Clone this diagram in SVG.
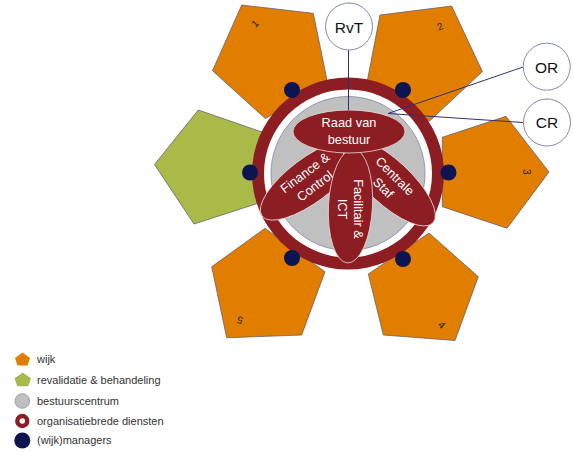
<svg xmlns="http://www.w3.org/2000/svg" width="573" height="452" viewBox="0 0 573 452">
<defs>
<style>
.wijk{fill:#E17E00;stroke:#55556A;stroke-width:0.7}
.reva{fill:#A9BA48;stroke:#55556A;stroke-width:0.7}
.num{font-family:"Liberation Sans",Arial,sans-serif;font-size:10px;fill:#222;text-anchor:middle;dominant-baseline:central}
.petal{fill:#8C1D23;stroke:#F0D8D8;stroke-width:0.8}
.ptxt{font-family:"Liberation Sans",Arial,sans-serif;font-size:12.8px;fill:#FFFFFF;text-anchor:middle}
.mgr{fill:#0C1452}
.body{fill:#FFFFFF;stroke:#8387B5;stroke-width:1}
.btxt{font-family:"Liberation Sans",Arial,sans-serif;font-size:15.5px;fill:#111;text-anchor:middle}
.conn{stroke:#2E3275;stroke-width:1;fill:none}
.leg{font-family:"Liberation Sans",Arial,sans-serif;font-size:11px;fill:#333}
</style>
</defs>

<g id="wijk1">
<polygon class="wijk" points="241.7,5 313.3,13.3 327.6,83 265.3,118.6 212.5,70.7"/>
<text class="num" transform="translate(255,23.5) rotate(-45)">1</text>
</g>
<g id="wijk2">
<polygon class="wijk" points="380,15 451.7,6 482.4,71.6 429.6,121 366.3,86"/>
<text class="num" transform="translate(440,26.5) rotate(-25)">2</text>
</g>
<g id="wijk3">
<polygon class="wijk" points="549,172 507,228.3 442.3,206.7 442.3,137.3 506,116.3"/>
<text class="num" transform="translate(526.5,171.7) rotate(90)">3</text>
</g>
<g id="wijk4">
<polygon class="wijk" points="429,233 478.3,276.7 455,340.5 383.3,335 368.3,274"/>
<text class="num" transform="translate(441.7,325) rotate(45)">4</text>
</g>
<g id="wijk5">
<polygon class="wijk" points="265,228.3 325,271.7 301.7,335 226.7,337.8 211.7,266.7"/>
<text class="num" transform="translate(240,320) rotate(200)">5</text>
</g>
<g id="revalidatie">
<polygon class="reva" points="198.3,110 262,132 262,202 194,224 154.5,164.5"/>
</g>

<g id="organisatiebrede-diensten">
<circle cx="348" cy="173.5" r="96" fill="#8C1D23"/>
<circle cx="348" cy="173.5" r="84" fill="#FFFFFF"/>
</g>
<g id="bestuurscentrum">
<circle cx="348" cy="173.5" r="77" fill="#C0C0C0" stroke="#7F86A8" stroke-width="0.8"/>
</g>

<g id="finance-control">
<ellipse class="petal" cx="310" cy="180" rx="60" ry="22" transform="rotate(-37 310 180)"/>
<g transform="translate(310,179.5) rotate(-37)">
<text class="ptxt" x="0" y="-4">Finance &amp;</text>
<text class="ptxt" x="0" y="12.5">Control</text>
</g>
</g>
<g id="centrale-staf">
<ellipse class="petal" cx="389" cy="182" rx="60" ry="22" transform="rotate(43 389 182)"/>
<g transform="translate(389,182) rotate(45)">
<text class="ptxt" x="0" y="-4">Centrale</text>
<text class="ptxt" x="0" y="12.5">Staf</text>
</g>
</g>
<g id="facilitair-ict">
<ellipse class="petal" cx="350.5" cy="206" rx="22" ry="57" transform="rotate(3 350.5 206)"/>
<g transform="translate(350,209) rotate(90)">
<text class="ptxt" x="0" y="-4">Facilitair &amp;</text>
<text class="ptxt" x="0" y="12.5">ICT</text>
</g>
</g>
<g id="raad-van-bestuur">
<ellipse class="petal" cx="349" cy="131.5" rx="56" ry="21.5"/>
<text class="ptxt" x="349" y="127">Raad van</text>
<text class="ptxt" x="349" y="143.5">bestuur</text>
</g>

<g id="managers">
<circle class="mgr" cx="292" cy="90" r="8"/>
<circle class="mgr" cx="403" cy="90" r="8"/>
<circle class="mgr" cx="250" cy="172.5" r="8"/>
<circle class="mgr" cx="448.5" cy="172.5" r="8"/>
<circle class="mgr" cx="292" cy="258" r="8"/>
<circle class="mgr" cx="403" cy="259" r="8"/>
</g>

<g id="connectors">
<line class="conn" x1="348.5" y1="50" x2="348.5" y2="110"/>
<line class="conn" x1="523" y1="67" x2="388" y2="113.5"/>
<line class="conn" x1="523" y1="122.5" x2="388" y2="113.5"/>
</g>

<g id="RvT">
<circle class="body" cx="349" cy="26.5" r="23.5"/>
<text class="btxt" x="349" y="32.5">RvT</text>
</g>
<g id="OR">
<circle class="body" cx="546.7" cy="66.7" r="23.5"/>
<text class="btxt" x="546.7" y="73">OR</text>
</g>
<g id="CR">
<circle class="body" cx="547" cy="122.5" r="23.5"/>
<text class="btxt" x="547" y="128.3">CR</text>
</g>

<g id="legend">
<polygon points="22.5,352.5 30,358 27.5,365.5 17.5,365.5 15,358" fill="#E17E00"/>
<text class="leg" x="37" y="362.7">wijk</text>
<polygon points="22.8,373 30.5,378.5 28,385.8 17.5,385.8 15,378.5" fill="#A9BA48" stroke="#7A8A40" stroke-width="0.5"/>
<text class="leg" x="37" y="383.5">revalidatie &amp; behandeling</text>
<circle cx="22.3" cy="401" r="7.3" fill="#C0C0C0" stroke="#8A90B0" stroke-width="0.8"/>
<text class="leg" x="37" y="404.5">bestuurscentrum</text>
<circle cx="22.3" cy="421" r="5" fill="none" stroke="#8C1D23" stroke-width="4.4"/>
<text class="leg" x="37" y="424.5">organisatiebrede diensten</text>
<circle cx="22.3" cy="440.5" r="8" fill="#0C1452"/>
<text class="leg" x="37" y="444.3">(wijk)managers</text>
</g>
</svg>
